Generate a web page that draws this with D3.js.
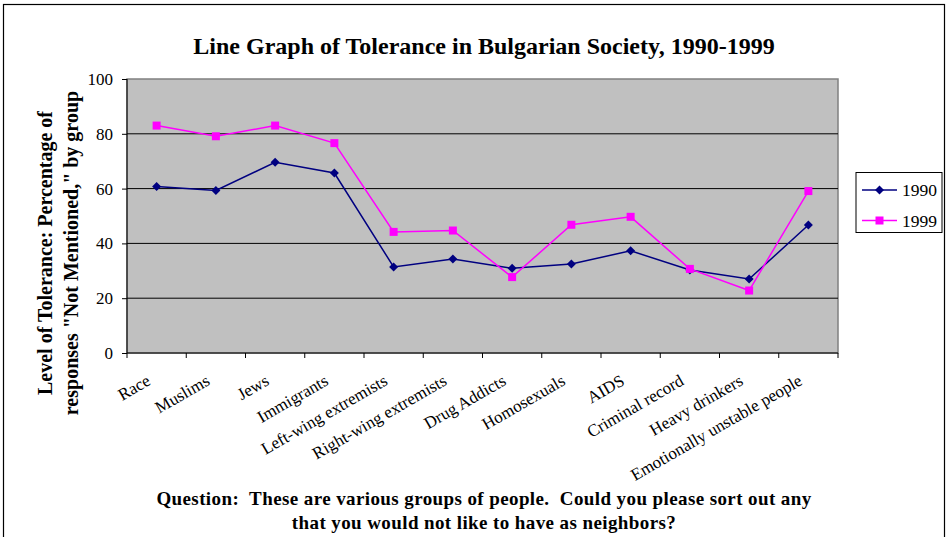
<!DOCTYPE html>
<html><head><meta charset="utf-8">
<script src="https://cdn.jsdelivr.net/npm/d3@7"></script>
<style>body{margin:0;background:#fff}svg{display:block}text{font-family:"Liberation Serif","Times New Roman",serif}</style>
</head><body><svg id="c" width="947" height="537"></svg>
<script>
const categories = ["Race","Muslims","Jews","Immigrants","Left-wing extremists","Right-wing extremists","Drug Addicts","Homosexuals","AIDS","Criminal record","Heavy drinkers","Emotionally unstable people"];
const values1990 = [60.8,59.3,69.6,65.7,31.4,34.3,30.9,32.5,37.3,30.3,27.0,46.7];
const values1999 = [83.0,79.1,83.0,76.6,44.2,44.7,27.7,46.8,49.7,30.7,22.8,59.1];
const seriesNames = ["1990","1999"];
const yTicks = [0,20,40,60,80,100];

const svg = d3.select("#c");
svg.append("rect").attr("x",3.5).attr("y",4.5).attr("width",941).attr("height",540).attr("fill","#fff").attr("stroke","#000").attr("stroke-width",1.2);

const L=127,R=838,T=79,B=353;
const x = d3.scaleBand().domain(categories).range([L,R]);
const y = d3.scaleLinear().domain([0,100]).range([B,T]);

svg.append("rect").attr("x",L).attr("y",T).attr("width",R-L).attr("height",B-T).attr("fill","#c0c0c0").attr("stroke","#808080").attr("stroke-width",1.5);

svg.append("g").selectAll("line").data(yTicks.filter(d=>d>0&&d<100)).join("line")
  .attr("x1",L).attr("x2",R).attr("y1",d=>y(d)).attr("y2",d=>y(d)).attr("stroke","#000").attr("stroke-width",1);

const ya = svg.append("g").attr("transform",`translate(${L},0)`).call(d3.axisLeft(y).tickValues(yTicks).tickSize(5).tickPadding(9));
ya.attr("font-family","Liberation Serif");
ya.select(".domain").attr("stroke","#000").attr("d",`M0,${T}V${B}`);
ya.selectAll(".tick line").attr("stroke","#000");
ya.selectAll("text").attr("font-size",17).attr("fill","#000");

const xa = svg.append("g").attr("transform",`translate(0,${B})`);
xa.append("line").attr("x1",L).attr("x2",R).attr("stroke","#000");
const bounds = d3.range(categories.length+1).map(i=>L+i*x.bandwidth());
xa.selectAll(".tk").data(bounds).join("line").attr("x1",d=>d).attr("x2",d=>d).attr("y1",0).attr("y2",5).attr("stroke","#000");
xa.selectAll(".lb").data(categories).join("text")
  .attr("transform",d=>`translate(${x(d)+x.bandwidth()/2-5},${31}) rotate(-30)`)
  .attr("text-anchor","end").attr("font-size",17).attr("fill","#000").text(d=>d);

const line = d3.line().x((d,i)=>x(categories[i])+x.bandwidth()/2).y(d=>y(d));
const colors = ["#000080","#ff00ff"];
const diamond = d3.symbol(d3.symbolDiamond2,52)();
[values1990,values1999].forEach((vals,si)=>{
  svg.append("path").datum(vals).attr("d",line).attr("fill","none").attr("stroke",colors[si]).attr("stroke-width",1.5);
  const g = svg.append("g");
  vals.forEach((v,i)=>{
    const cx = x(categories[i])+x.bandwidth()/2, cy=y(v);
    if(si===0) g.append("path").attr("d",diamond).attr("transform",`translate(${cx},${cy})`).attr("fill",colors[0]);
    else g.append("rect").attr("x",cx-4).attr("y",cy-4).attr("width",8).attr("height",8).attr("fill",colors[1]);
  });
});

const lg = svg.append("g");
lg.append("rect").attr("x",856).attr("y",172.5).attr("width",86).attr("height",60).attr("fill","#fff").attr("stroke","#000");
seriesNames.forEach((n,i)=>{
  const yy = 190 + i*30.5;
  lg.append("line").attr("x1",862).attr("x2",897).attr("y1",yy).attr("y2",yy).attr("stroke",colors[i]).attr("stroke-width",1.5);
  if(i===0) lg.append("path").attr("d",diamond).attr("transform",`translate(879.5,${yy})`).attr("fill",colors[0]);
  else lg.append("rect").attr("x",875.5).attr("y",yy-4).attr("width",8).attr("height",8).attr("fill",colors[1]);
  lg.append("text").attr("x",902).attr("y",yy+6).attr("font-size",17.5).attr("fill","#000").text(n);
});

svg.append("text").attr("x",484).attr("y",54).attr("text-anchor","middle").attr("font-size",24).attr("font-weight","bold").text("Line Graph of Tolerance in Bulgarian Society, 1990-1999");
const yt = svg.append("text").attr("transform","translate(52,253) rotate(-90)").attr("text-anchor","middle").attr("font-size",20).attr("font-weight","bold");
yt.append("tspan").attr("x",0).attr("dy",0).text("Level of Tolerance: Percentage of");
yt.append("tspan").attr("x",0).attr("dy",26).text("responses \"Not Mentioned,\" by group");
svg.append("text").attr("x",484).attr("y",505).attr("text-anchor","middle").attr("font-size",19).attr("letter-spacing",0.4).attr("font-weight","bold").style("white-space","pre").text("Question:  These are various groups of people.  Could you please sort out any");
svg.append("text").attr("x",484).attr("y",529).attr("text-anchor","middle").attr("font-size",19).attr("letter-spacing",0.4).attr("font-weight","bold").style("white-space","pre").text("that you would not like to have as neighbors?");
</script></body></html>
